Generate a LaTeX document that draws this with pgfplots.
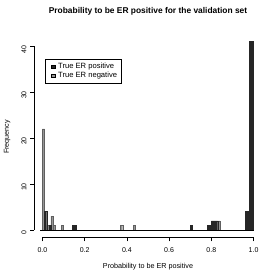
\documentclass[border=0pt]{standalone}
\usepackage{pgfplots}
\pgfplotsset{compat=1.18}
\usepackage{fontspec}
\setmainfont{Liberation Sans}
\definecolor{posbar}{RGB}{38,38,38}
\definecolor{negbar}{RGB}{150,150,150}
\definecolor{negedge}{RGB}{95,95,95}
\begin{document}
\begin{tikzpicture}
\useasboundingbox (0,0) rectangle (280pt,280pt);
\begin{axis}[
  at={(34pt,42.5pt)}, anchor=south west,
  scale only axis, width=228pt, height=203.5pt,
  xmin=-0.04, xmax=1.04, ymin=-1.64, ymax=42.64,
  clip=false,
  axis line style={draw=none},
  tick align=outside, major tick length=4pt,
  xtick pos=bottom, ytick pos=left,
  xtick={0,0.2,0.4,0.6,0.8,1.0},
  xticklabels={0.0,0.2,0.4,0.6,0.8,1.0},
  ytick={0,10,20,30,40},
  tick style={black, line width=0.4pt},
  /pgf/number format/assume math mode=true,
  tick label style={font=\fontsize{7}{8}\selectfont},
  xticklabel style={yshift=-3pt},
  yticklabel style={rotate=90, anchor=south, xshift=-3pt},
  title={Probability to be ER positive for the validation set},
  title style={font=\fontsize{8.4}{9}\selectfont\bfseries, at={(axis description cs:0.5,1.0835)}, anchor=center},
  xlabel={Probability to be ER positive},
  xlabel style={font=\fontsize{7.2}{8}\selectfont, at={(axis description cs:0.5,-0.145)}, anchor=center},
  ylabel={Frequency},
  ylabel style={font=\fontsize{7.2}{8}\selectfont, at={(axis description cs:-0.118,0.494)}, anchor=center, rotate=0},
  legend image code/.code={\path[draw=none,fill=none] (0pt,0pt) -- (9pt,0pt); \draw[#1] (4.5pt,-1.7pt) rectangle (7.8pt,1.7pt);},
  legend style={at={(axis description cs:0.048,0.877)}, anchor=north west,
    draw=black, line width=0.5pt, font=\fontsize{7.6}{7.6}\selectfont,
    inner xsep=2pt, inner ysep=1.8pt, row sep=-1.6pt,
    cells={anchor=west}},
]
% True ER negative (gray)
\addplot[ybar, bar width=0.01, bar shift=0pt, fill=negbar, draw=negedge, line width=0.3pt, forget plot]
  coordinates {(0.005,22) (0.025,1) (0.045,3) (0.055,1) (0.095,1) (0.375,1) (0.435,1) (0.835,2)};
% True ER positive (dark)
\addplot[ybar, bar width=0.01, bar shift=0pt, fill=posbar, draw=posbar, line width=0.3pt, forget plot]
  coordinates {(0.015,4) (0.035,1) (0.145,1) (0.155,1) (0.705,1) (0.785,1) (0.795,1)
               (0.805,2) (0.815,2) (0.825,2) (0.965,4) (0.975,4) (0.985,41) (0.995,41)};
% zero line of the histogram
\addplot[black, line width=0.5pt, forget plot] coordinates {(-0.01,0) (1.0,0)};
\addlegendimage{fill=posbar, draw=black, line width=0.4pt}
\addlegendentry{True ER positive}
\addlegendimage{fill=negbar, draw=black, line width=0.4pt}
\addlegendentry{True ER negative}
% axis lines in R style
\draw[black, line width=0.4pt] (axis cs:0,-1.64) -- (axis cs:1,-1.64);
\draw[black, line width=0.4pt] (axis cs:-0.04,0) -- (axis cs:-0.04,40);
\end{axis}
\end{tikzpicture}
\end{document}
